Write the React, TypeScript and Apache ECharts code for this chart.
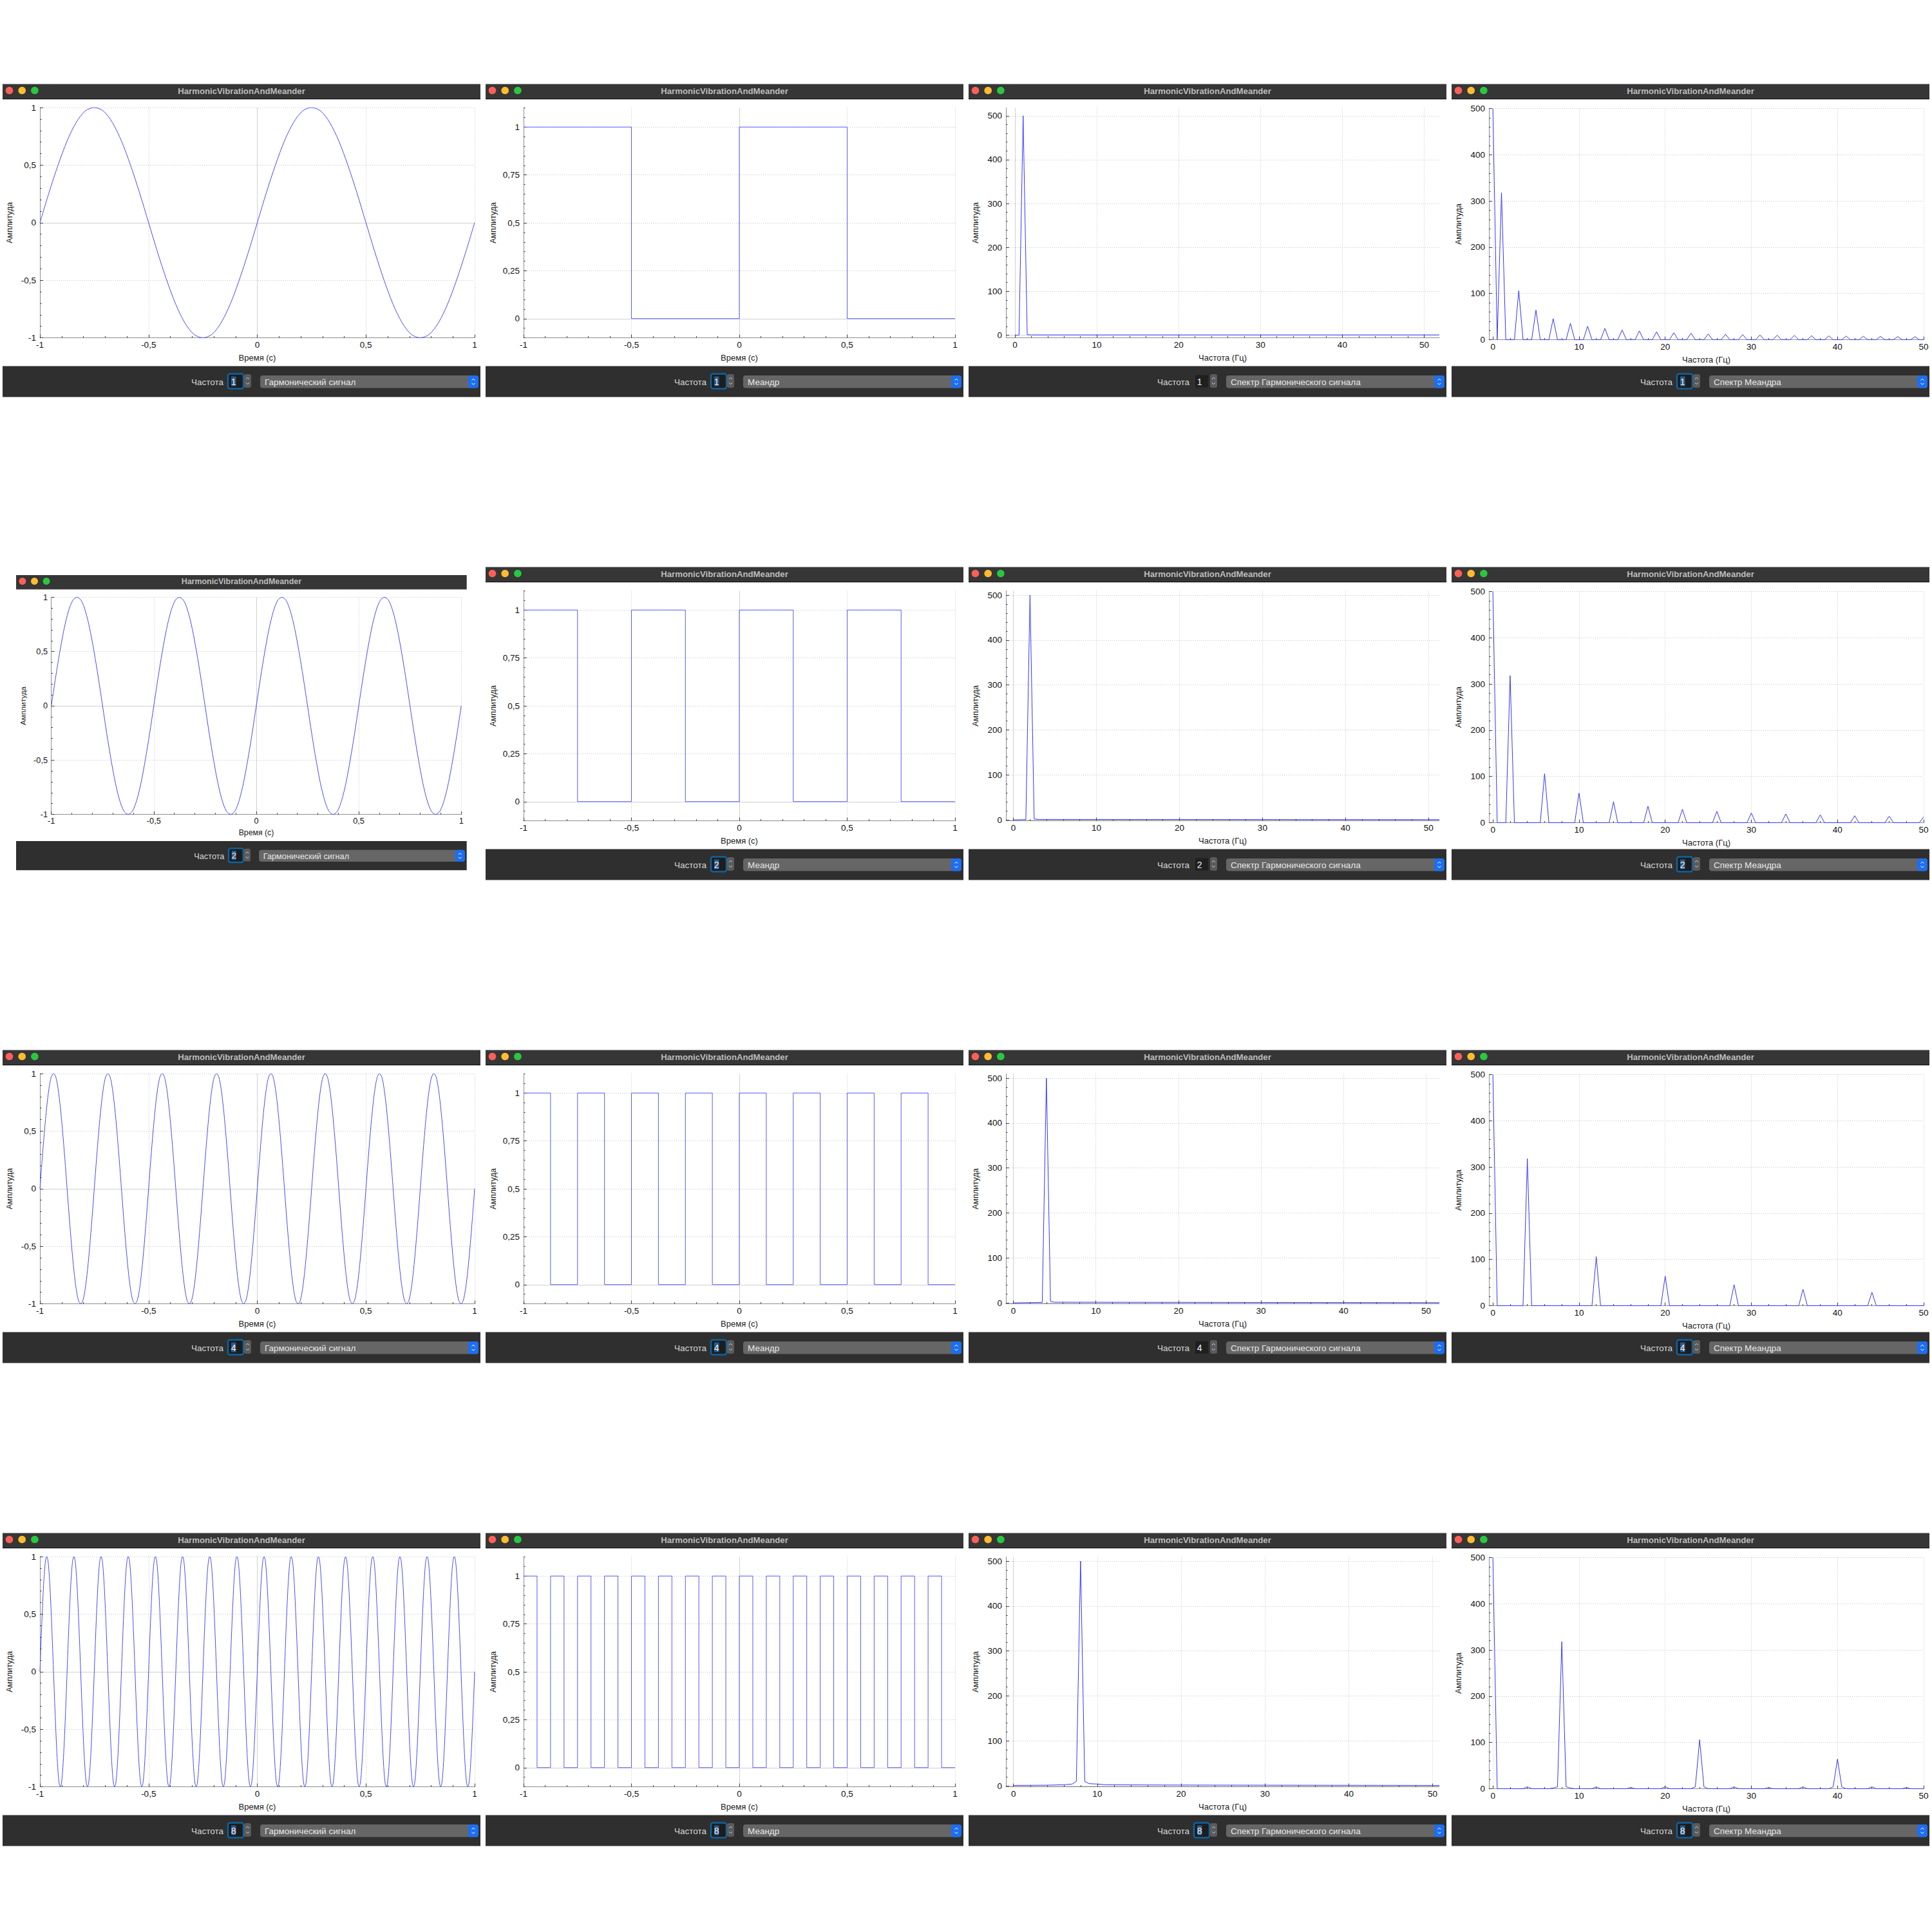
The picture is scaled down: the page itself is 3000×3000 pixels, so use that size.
import React, { useEffect, useRef } from "react";
import * as echarts from "echarts";

// ---------- data ----------
const FREQUENCIES = [1, 2, 4, 8]; // one row of windows per frequency (Гц)
const TIME_RANGE = [-1, 1];
const TIME_TICKS = [-1, -0.5, 0, 0.5, 1];
const HARMONIC_AMP_TICKS = [-1, -0.5, 0, 0.5, 1];
const MEANDER_AMP_TICKS = [0, 0.25, 0.5, 0.75, 1];
const FREQ_TICKS = [0, 10, 20, 30, 40, 50];
const SPECTRUM_AMP_TICKS = [0, 100, 200, 300, 400, 500];

// one period of the harmonic signal, read at 15° steps
const SINE_PERIOD_SAMPLES = [
  0, 0.26, 0.5, 0.71, 0.87, 0.97, 1, 0.97, 0.87, 0.71, 0.5, 0.26,
  0, -0.26, -0.5, -0.71, -0.87, -0.97, -1, -0.97, -0.87, -0.71, -0.5, -0.26,
];
// meander: high half-period, then low half-period
const MEANDER_HALF_PERIOD_LEVELS = [1, 0];

// spectrum of the harmonic signal, [frequency, amplitude]
const HARM_SPECTRUM_F1 = [[0, 0], [0.5, 0], [1, 500], [1.5, 1], [2, 0.5], [51.85, 0.5]];
const HARM_SPECTRUM_F2 = [[0, 0], [1.5, 0.5], [2, 500], [2.5, 2], [3, 1], [51.3, 0.5]];
const HARM_SPECTRUM_F4 = [[0, 0], [3.5, 1], [4, 500], [4.5, 3], [5, 1.5], [51.6, 0.5]];
const HARM_SPECTRUM_F8 = [[0, 1], [4, 1.5], [6, 2.5], [7, 4], [7.5, 10], [8, 500], [8.5, 10], [9, 5], [10, 4], [11, 2.5], [16, 2], [30, 1.5], [50.8, 1]];
const HARM_SPECTRA = [HARM_SPECTRUM_F1, HARM_SPECTRUM_F2, HARM_SPECTRUM_F4, HARM_SPECTRUM_F8];

// spectrum of the meander: 0.5 Hz bins from 0 to 50 Hz
const SPECTRUM_BIN_WIDTH = 0.5;
const SPECTRUM_MAX_FREQ = 50;
const MEANDER_DC = 500;
// amplitudes of the 1st, 3rd, 5th ... harmonics
const MEANDER_ODD_HARMONICS = [318, 106, 64, 45.5, 35.5, 29, 24.5, 21, 19, 17, 15, 14, 12.5, 11.8, 11, 10.3, 9.6, 9.1, 8.6, 8.2, 7.8, 7.4, 7.1, 6.8, 6.5];
// small leakage bins visible in the 8 Hz meander spectrum
const MEANDER_F8_LEAKAGE = [[4, 4], [7, 1.5], [7.5, 4], [8.5, 4], [9, 1.5], [12, 4], [16, 2.5], [20, 4], [23.5, 4], [24.5, 4], [28, 4], [32, 2.5], [36, 4], [39.5, 4], [40.5, 4], [44, 4], [48, 2.5]];

// axis ranges
const HARM_SPECTRUM_X_RANGES = [[-1.1, 51.85], [-0.9, 51.3], [-0.9, 51.6], [-0.9, 50.8]];
const HARM_SPECTRUM_Y_RANGES = [[-6, 518], [-2, 509.5], [-2, 509.5], [-2, 509.5]];
const MEANDER_SPECTRUM_X_RANGE = [-0.46, 50];
const MEANDER_SPECTRUM_Y_RANGE = [0, 500];
const MEANDER_Y_RANGE = [-0.1, 1.1];
const HARMONIC_Y_RANGE = [-1, 1];

// texts
const WINDOW_TITLE = "HarmonicVibrationAndMeander";
const FREQ_LABEL = "Частота";
const COMBO_TEXTS = ["Гармонический сигнал", "Меандр", "Спектр Гармонического сигнала", "Спектр Меандра"];
const X_TITLES = ["Время (с)", "Время (с)", "Частота (Гц)", "Частота (Гц)"];
const Y_TITLE = "Амплитуда";

// ---------- layout / style ----------
const FONT = '"Liberation Sans", Arial, Helvetica, sans-serif';
const CELL = 750;
const WIN_W = 742;
const TRAFFIC_LIGHTS = ["#fe5f57", "#febc2e", "#28c840"];
// plot box inside a window: [left, top, right, bottom]
const PLOT_BOX = [
  [58, 36.5, 733, 394],
  [59, 37, 729, 394],
  [58, 37, 731, 394],
  [58, 38, 733, 397],
];

function frameOf(row: number, col: number) {
  if (row === 1 && col === 0) return { x0: 25, y0: 893, s: 0.943 };
  return { x0: col * CELL + 4, y0: row * CELL + 130.5, s: 1 };
}

const fmt = (v: number) => String(v).replace(".", ",");

function minorValues(range: number[], majors: number[], step: number) {
  const out: number[] = [];
  const start = Math.ceil(range[0] / step - 1e-9);
  const end = Math.floor(range[1] / step + 1e-9);
  for (let k = start; k <= end; k++) {
    const v = Math.round(k * step * 1e6) / 1e6;
    if (!majors.some((m) => Math.abs(m - v) < 1e-9)) out.push(v);
  }
  return out;
}

function makeAxes(dim: "x" | "y", gridIndex: number, range: number[], majors: number[], minorStep: number, s: number, name: string, nameGap: number, zeroLine: boolean) {
  const isX = dim === "x";
  const common = { type: "value", gridIndex, min: range[0], max: range[1], position: isX ? "bottom" : "left" };
  const main = {
    ...common,
    axisLine: { show: true, onZero: false, lineStyle: { color: "#8e8e8e", width: 1 } },
    axisTick: { show: true, inside: true, length: 5 * s, customValues: majors, lineStyle: { color: "#3a3a3a", width: 1 } },
    axisLabel: { show: true, customValues: majors, formatter: fmt, margin: (isX ? 4 : 6) * s, fontSize: 13.5 * s, fontFamily: FONT, color: "#111", hideOverlap: false },
    splitLine: { show: true, customValues: majors, lineStyle: { color: "#c4c4c4", width: 1, type: [1, 2] } },
    name,
    nameLocation: "middle",
    nameGap,
    nameTextStyle: { fontSize: (isX ? 13 : 12.5) * s, fontFamily: FONT, color: "#1a1a1a" },
  };
  const minor = {
    ...common,
    axisLine: { show: false, onZero: false },
    axisTick: { show: true, inside: true, length: 2.5 * s, customValues: minorValues(range, majors, minorStep), lineStyle: { color: "#3a3a3a", width: 1 } },
    axisLabel: { show: false },
    splitLine: { show: false },
  };
  const zero = {
    ...common,
    axisLine: { show: false, onZero: false },
    axisTick: { show: false, customValues: [0] },
    axisLabel: { show: false },
    splitLine: { show: zeroLine, customValues: [0], lineStyle: { color: "#d0d0d0", width: 1, type: "solid" } },
  };
  return [main, minor, zero];
}

function sineData(f: number) {
  const n = SINE_PERIOD_SAMPLES.length;
  const total = (TIME_RANGE[1] - TIME_RANGE[0]) * f * n;
  const pts: number[][] = [];
  for (let j = 0; j <= total; j++) pts.push([TIME_RANGE[0] + j / (f * n), SINE_PERIOD_SAMPLES[j % n]]);
  return pts;
}

function meanderData(f: number) {
  const halves = (TIME_RANGE[1] - TIME_RANGE[0]) * 2 * f;
  const pts: number[][] = [];
  for (let k = 0; k < halves; k++) pts.push([TIME_RANGE[0] + k / (2 * f), MEANDER_HALF_PERIOD_LEVELS[k % 2]]);
  pts.push([TIME_RANGE[1], MEANDER_HALF_PERIOD_LEVELS[(halves - 1) % 2]]);
  return pts;
}

function meanderSpectrum(f: number) {
  const nBins = Math.round(SPECTRUM_MAX_FREQ / SPECTRUM_BIN_WIDTH) + 1;
  const bins = new Array(nBins).fill(0);
  bins[0] = MEANDER_DC;
  MEANDER_ODD_HARMONICS.forEach((a, k) => {
    const idx = Math.round(((2 * k + 1) * f) / SPECTRUM_BIN_WIDTH);
    if (idx < nBins) bins[idx] = a;
  });
  if (f === 8) MEANDER_F8_LEAKAGE.forEach(([x, v]) => (bins[Math.round(x / SPECTRUM_BIN_WIDTH)] = v));
  return bins.map((v, i) => [i * SPECTRUM_BIN_WIDTH, v]);
}

function text(str: string, x: number, y: number, align: string, size: number, color: string, weight = "normal") {
  return {
    type: "text",
    silent: true,
    x,
    y,
    style: { text: str, align, verticalAlign: "middle", textAlign: align, textVerticalAlign: "middle", fontSize: size, fontFamily: FONT, fontWeight: weight, fill: color },
  };
}

function chev(cx: number, cy: number, w: number, up: boolean, color: string) {
  const h = w * 0.8;
  const pts = up
    ? [[cx - w, cy + h / 2], [cx, cy - h / 2], [cx + w, cy + h / 2]]
    : [[cx - w, cy - h / 2], [cx, cy + h / 2], [cx + w, cy - h / 2]];
  return { type: "polyline", silent: true, shape: { points: pts }, style: { stroke: color, lineWidth: 1, fill: null } };
}

function chromeElements(x0: number, y0: number, s: number, f: number, col: number, focused: boolean) {
  const W = WIN_W * s;
  const P = (v: number) => v * s;
  const els: any[] = [];
  els.push({ type: "rect", silent: true, shape: { x: x0, y: y0, width: W, height: P(22.5) }, style: { fill: "#363636" } });
  els.push({ type: "rect", silent: true, shape: { x: x0, y: y0 + P(22.5), width: W, height: P(1.2) }, style: { fill: "#121212" } });
  TRAFFIC_LIGHTS.forEach((c, i) =>
    els.push({ type: "circle", silent: true, shape: { cx: x0 + P(10.5 + 19.7 * i), cy: y0 + P(10), r: P(5.8) }, style: { fill: c } })
  );
  els.push(text(WINDOW_TITLE, x0 + W / 2, y0 + P(10.5), "center", P(13.2), "#bdbdbd", "bold"));

  const py = y0 + P(438);
  els.push({ type: "rect", silent: true, shape: { x: x0, y: py, width: W, height: P(48) }, style: { fill: "#2f2f2f" } });
  els.push(text(FREQ_LABEL, x0 + P(343), py + P(24.5), "right", P(13.5), "#d8d8d8"));

  const sx = x0 + P(350);
  const sy = py + P(12);
  if (focused) {
    els.push({ type: "rect", silent: true, shape: { x: sx, y: sy, width: P(24), height: P(23), r: P(3) }, style: { fill: "#1d1d1d", stroke: "#0d63a0", lineWidth: P(2.5) } });
    els.push({ type: "rect", silent: true, shape: { x: sx + P(5), y: sy + P(4), width: P(7.5), height: P(15) }, style: { fill: "#2c5a8c" } });
  } else {
    els.push({ type: "rect", silent: true, shape: { x: sx + P(2), y: sy + P(2), width: P(20), height: P(19) }, style: { fill: "#1f1f1f" } });
  }
  els.push(text(String(f), sx + P(8.7), sy + P(12), "center", P(14), "#f2f2f2"));

  const tx = x0 + P(375);
  const ty = py + P(12.5);
  els.push({ type: "rect", silent: true, shape: { x: tx, y: ty, width: P(11), height: P(21), r: P(3) }, style: { fill: "#5b5b5b" } });
  els.push(chev(tx + P(5.5), ty + P(6.5), P(2.6), true, "#d0d0d0"));
  els.push(chev(tx + P(5.5), ty + P(14.5), P(2.6), false, "#d0d0d0"));

  const cx = x0 + P(400);
  const cy = py + P(14.5);
  els.push({ type: "rect", silent: true, shape: { x: cx, y: cy, width: P(339), height: P(19.5), r: P(4) }, style: { fill: "#666666" } });
  els.push(text(COMBO_TEXTS[col], cx + P(7), cy + P(10), "left", P(13.5), "#e6e6e6"));
  els.push({ type: "rect", silent: true, shape: { x: x0 + P(723), y: cy, width: P(16), height: P(19.5), r: P(4) }, style: { fill: "#1c6ef2" } });
  els.push(chev(x0 + P(731), cy + P(6.5), P(2.6), true, "#ffffff"));
  els.push(chev(x0 + P(731), cy + P(13), P(2.6), false, "#ffffff"));
  return els;
}

function buildOption() {
  const grid: any[] = [];
  const xAxis: any[] = [];
  const yAxis: any[] = [];
  const series: any[] = [];
  const graphic: any[] = [];

  FREQUENCIES.forEach((f, row) => {
    for (let col = 0; col < 4; col++) {
      const { x0, y0, s } = frameOf(row, col);
      const focused = !(col === 2 && row < 3);
      graphic.push(...chromeElements(x0, y0, s, f, col, focused));

      const [l, t, r, b] = PLOT_BOX[col];
      const gi = grid.length;
      grid.push({ left: x0 + l * s, top: y0 + t * s, width: (r - l) * s, height: (b - t) * s, show: false, containLabel: false });

      let xr: number[], yr: number[], xMaj: number[], yMaj: number[], xStep: number, yStep: number;
      let xZero = true;
      let yZero = true;
      let data: number[][];
      let extra: any = {};
      let color = "#3535ff";
      if (col === 0) {
        xr = TIME_RANGE; yr = HARMONIC_Y_RANGE; xMaj = TIME_TICKS; yMaj = HARMONIC_AMP_TICKS; xStep = 0.1; yStep = 0.1;
        data = sineData(f); extra = { smooth: 0.3 }; color = "#4a4aff";
      } else if (col === 1) {
        xr = TIME_RANGE; yr = MEANDER_Y_RANGE; xMaj = TIME_TICKS; yMaj = MEANDER_AMP_TICKS; xStep = 0.1; yStep = 0.05;
        data = meanderData(f); extra = { step: "end" }; color = "#5a5aff";
      } else if (col === 2) {
        xr = HARM_SPECTRUM_X_RANGES[row]; yr = HARM_SPECTRUM_Y_RANGES[row]; xMaj = FREQ_TICKS; yMaj = SPECTRUM_AMP_TICKS; xStep = 2; yStep = 20;
        data = HARM_SPECTRA[row];
      } else {
        xr = MEANDER_SPECTRUM_X_RANGE; yr = MEANDER_SPECTRUM_Y_RANGE; xMaj = FREQ_TICKS; yMaj = SPECTRUM_AMP_TICKS; xStep = 2; yStep = 20;
        xZero = false; yZero = false;
        data = meanderSpectrum(f);
      }

      const xi = xAxis.length;
      xAxis.push(...makeAxes("x", gi, xr, xMaj, xStep, s, X_TITLES[col], 24 * s, xZero));
      const yi = yAxis.length;
      yAxis.push(...makeAxes("y", gi, yr, yMaj, yStep, s, Y_TITLE, 41 * s, yZero));

      series.push({
        type: "line",
        xAxisIndex: xi,
        yAxisIndex: yi,
        data,
        symbol: "none",
        showSymbol: false,
        silent: true,
        z: 3,
        lineStyle: { color, width: 1 },
        ...extra,
      });
    }
  });

  return { animation: false, backgroundColor: "#ffffff", grid, xAxis, yAxis, series, graphic };
}

export default function App() {
  const ref = useRef<HTMLDivElement>(null);
  useEffect(() => {
    const chart = echarts.init(ref.current as HTMLDivElement, null, { renderer: "svg", width: 3000, height: 3000 });
    chart.setOption(buildOption() as any);
    return () => chart.dispose();
  }, []);
  return <div ref={ref} style={{ position: "absolute", left: 0, top: 0, width: 3000, height: 3000, background: "#ffffff" }} />;
}
